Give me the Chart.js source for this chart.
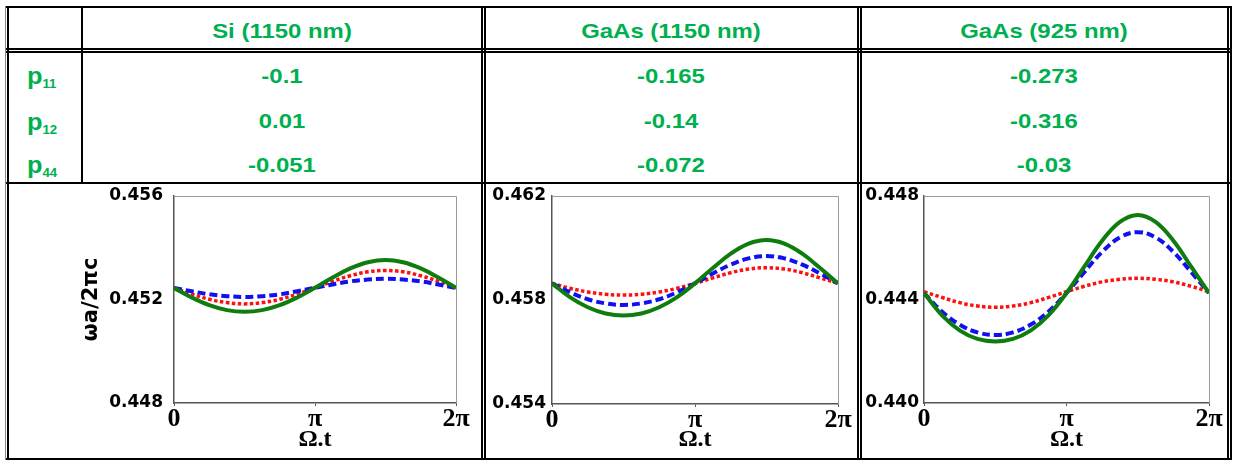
<!DOCTYPE html>
<html>
<head>
<meta charset="utf-8">
<script src="https://cdn.jsdelivr.net/npm/chart.js@4.4.1/dist/chart.umd.min.js"></script>
<style>
  html, body { margin: 0; padding: 0; background: #fff; }
  body { width: 1237px; height: 462px; position: relative; overflow: hidden; font-family: "Liberation Sans", Arial, sans-serif; }
  .ln { position: absolute; background: #000; }
  .txt { position: absolute; color: #00b050; font-weight: bold; font-size: 21px; line-height: 21px; text-align: center; white-space: nowrap; transform: scaleX(1.14); transform-origin: center; }
  .plab { position: absolute; color: #00b050; font-weight: bold; font-size: 23px; line-height: 23px; white-space: nowrap; transform: scaleX(1.1); transform-origin: left; }
  .plab sub { font-size: 12px; vertical-align: -4px; line-height: 0; }
  canvas { position: absolute; }
</style>
</head>
<body>
<script>
// ---------- data ----------
const materials = ['Si (1150 nm)', 'GaAs (1150 nm)', 'GaAs (925 nm)'];
const coefSubs = ['11', '12', '44'];
const p11 = ['-0.1', '-0.165', '-0.273'];
const p12 = ['0.01', '-0.14', '-0.316'];
const p44 = ['-0.051', '-0.072', '-0.03'];

// Ω.t in units of π
const xPhase = [0, 0.125, 0.25, 0.375, 0.5, 0.625, 0.75, 0.875, 1, 1.125, 1.25, 1.375, 1.5, 1.625, 1.75, 1.875, 2];
const xTickValues = [0, 1, 2];
const xTickLabels = ['0', 'π', '2π'];

const siGreen = [0.45245,0.45208,0.45178,0.45159,0.45153,0.45159,0.45178,0.45208,0.45245,0.45285,0.45320,0.45344,0.45353,0.45344,0.45320,0.45285,0.45245];
const siBlue  = [0.45245,0.45232,0.45220,0.45213,0.45210,0.45213,0.45220,0.45232,0.45245,0.45258,0.45270,0.45277,0.45280,0.45277,0.45270,0.45258,0.45245];
const siRed   = [0.45245,0.45221,0.45201,0.45188,0.45183,0.45188,0.45201,0.45221,0.45245,0.45270,0.45292,0.45307,0.45312,0.45307,0.45292,0.45270,0.45245];
const siYTicks = [0.448, 0.452, 0.456];
const siYLabels = ['0.448', '0.452', '0.456'];

const ga1150Green = [0.45864,0.45811,0.45772,0.45748,0.45740,0.45748,0.45772,0.45811,0.45864,0.45923,0.45978,0.46017,0.46031,0.46017,0.45978,0.45923,0.45864];
const ga1150Blue  = [0.45864,0.45830,0.45803,0.45787,0.45781,0.45787,0.45803,0.45830,0.45864,0.45902,0.45936,0.45960,0.45969,0.45960,0.45936,0.45902,0.45864];
const ga1150Red   = [0.45864,0.45845,0.45831,0.45822,0.45819,0.45822,0.45831,0.45845,0.45864,0.45885,0.45905,0.45919,0.45924,0.45919,0.45905,0.45885,0.45864];
const ga1150YTicks = [0.454, 0.458, 0.462];
const ga1150YLabels = ['0.454', '0.458', '0.462'];

const ga925Green = [0.44425,0.44340,0.44281,0.44248,0.44238,0.44248,0.44281,0.44340,0.44425,0.44527,0.44627,0.44700,0.44727,0.44700,0.44627,0.44527,0.44425];
const ga925Blue  = [0.44425,0.44354,0.44303,0.44273,0.44263,0.44273,0.44303,0.44354,0.44425,0.44506,0.44584,0.44640,0.44660,0.44640,0.44584,0.44506,0.44425];
const ga925Red   = [0.44430,0.44408,0.44388,0.44375,0.44370,0.44375,0.44388,0.44408,0.44430,0.44451,0.44468,0.44478,0.44482,0.44478,0.44468,0.44451,0.44430];
const ga925YTicks = [0.440, 0.444, 0.448];
const ga925YLabels = ['0.440', '0.444', '0.448'];

const yTitle = 'ωa/2πc';
const xTitle = 'Ω.t';

// ---------- table ----------
function line(x, y, w, h, color) {
  const d = document.createElement('div');
  d.className = 'ln';
  d.style.left = x + 'px'; d.style.top = y + 'px';
  d.style.width = w + 'px'; d.style.height = h + 'px';
  if (color) d.style.background = color;
  document.body.appendChild(d);
}
line(5, 6, 1227, 2);
line(5, 48, 1227, 2);
line(5, 51, 1227, 2);
line(5, 182, 1227, 2);
line(5, 458, 1227, 2);
line(5, 6, 1, 454, '#888');
line(7, 6, 2, 454);
line(81, 6, 2, 178);
line(481, 6, 2, 454);
line(484, 6, 2, 454);
line(857, 6, 2, 454);
line(860, 6, 2, 454);
line(1227, 6, 2, 454);
line(1230, 6, 2, 454);

const colCenters = [282, 671, 1044];
function text(str, cx, top) {
  const d = document.createElement('div');
  d.className = 'txt';
  d.textContent = str;
  d.style.top = top + 'px';
  d.style.left = (cx - 150) + 'px';
  d.style.width = '300px';
  document.body.appendChild(d);
}
materials.forEach((m, i) => text(m, colCenters[i], 20));
const rows = [p11, p12, p44];
const rowTops = [65, 110, 154];
rows.forEach((r, j) => r.forEach((v, i) => text(v, colCenters[i], rowTops[j])));
const pTops = [64.5, 110.5, 154];
coefSubs.forEach((s, j) => {
  const d = document.createElement('div');
  d.className = 'plab';
  d.innerHTML = 'p<sub>' + s + '</sub>';
  d.style.left = '27px';
  d.style.top = pTops[j] + 'px';
  document.body.appendChild(d);
});

// ---------- charts ----------
const framePlugin = {
  id: 'frame',
  beforeDatasetsDraw(chart) {
    const a = chart.chartArea, c = chart.ctx;
    c.save();
    c.strokeStyle = '#9a9a9a';
    c.lineWidth = 1;
    c.beginPath();
    c.moveTo(a.left, a.top + 0.5);
    c.lineTo(a.right + 0.5, a.top + 0.5);
    c.lineTo(a.right + 0.5, a.bottom);
    c.stroke();
    c.restore();
  }
};

function makeChart(cfg) {
  const cv = document.createElement('canvas');
  cv.width = cfg.w; cv.height = cfg.h;
  cv.style.left = cfg.x + 'px'; cv.style.top = cfg.y + 'px';
  cv.style.width = cfg.w + 'px'; cv.style.height = cfg.h + 'px';
  document.body.appendChild(cv);
  const pts = arr => arr.map((v, i) => ({ x: xPhase[i], y: v }));
  new Chart(cv.getContext('2d'), {
    type: 'line',
    data: {
      datasets: [
        { data: pts(cfg.green), borderColor: '#0e7d0e', borderWidth: 4, pointRadius: 0, tension: 0.4, fill: false },
        { data: pts(cfg.blue), borderColor: '#1010f0', borderWidth: 4, borderDash: [8, 4], pointRadius: 0, tension: 0.4, fill: false },
        { data: pts(cfg.red), borderColor: '#ff1010', borderWidth: 3.5, borderDash: [3.5, 2.5], pointRadius: 0, tension: 0.4, fill: false }
      ]
    },
    options: {
      responsive: false,
      animation: false,
      devicePixelRatio: 1,
      layout: { padding: { top: 10, right: cfg.padR, left: 0, bottom: 0 } },
      plugins: { legend: { display: false }, tooltip: { enabled: false } },
      scales: {
        x: {
          type: 'linear', min: 0, max: 2,
          afterBuildTicks: s => { s.ticks = xTickValues.map(v => ({ value: v })); },
          afterFit: s => { s.height = cfg.xH; s.paddingLeft = 0; s.paddingRight = 0; },
          grid: { display: true, drawOnChartArea: false, drawTicks: true, tickLength: 3, color: '#555' },
          border: { display: true, color: '#555', width: 1.5 },
          ticks: {
            padding: 0, color: '#000', maxRotation: 0, autoSkip: false,
            font: { family: '"Liberation Serif", "Times New Roman", serif', size: 26, weight: 'bold', lineHeight: 1.05 },
            callback: (v, i) => xTickLabels[i]
          },
          title: {
            display: true, text: xTitle, color: '#000',
            font: { family: '"Liberation Serif", "Times New Roman", serif', size: 24, weight: 'bold', lineHeight: 1 },
            padding: { top: 0, bottom: 6 }
          }
        },
        y: {
          type: 'linear', min: cfg.yTicks[0], max: cfg.yTicks[2],
          afterBuildTicks: s => { s.ticks = cfg.yTicks.map(v => ({ value: v })); },
          afterFit: s => { s.width = cfg.yW; s.paddingTop = 0; s.paddingBottom = 0; },
          grid: { display: false, drawTicks: false },
          border: { display: true, color: '#555', width: 1.5 },
          ticks: {
            padding: cfg.tickPad, color: '#000', autoSkip: false,
            font: { family: '"DejaVu Sans", sans-serif', size: 17, weight: 'bold' },
            callback: (v, i) => cfg.yLabels[i]
          },
          title: {
            display: !!cfg.showYTitle, text: yTitle, color: '#000',
            font: { family: '"DejaVu Sans", sans-serif', size: 21, weight: 'bold', lineHeight: 1 },
            padding: { top: 21, bottom: 0 }
          }
        }
      }
    },
    plugins: [framePlugin]
  });
}

makeChart({ x: 60, y: 186, w: 420, h: 272, yW: 114, xH: 55, padR: 24, tickPad: 11,
  green: siGreen, blue: siBlue, red: siRed, yTicks: siYTicks, yLabels: siYLabels, showYTitle: true });
makeChart({ x: 487, y: 186, w: 368, h: 272, yW: 65, xH: 54, padR: 17, tickPad: 6,
  green: ga1150Green, blue: ga1150Blue, red: ga1150Red, yTicks: ga1150YTicks, yLabels: ga1150YLabels });
makeChart({ x: 863, y: 186, w: 361, h: 272, yW: 61, xH: 55, padR: 15, tickPad: 5,
  green: ga925Green, blue: ga925Blue, red: ga925Red, yTicks: ga925YTicks, yLabels: ga925YLabels });
</script>
</body>
</html>
